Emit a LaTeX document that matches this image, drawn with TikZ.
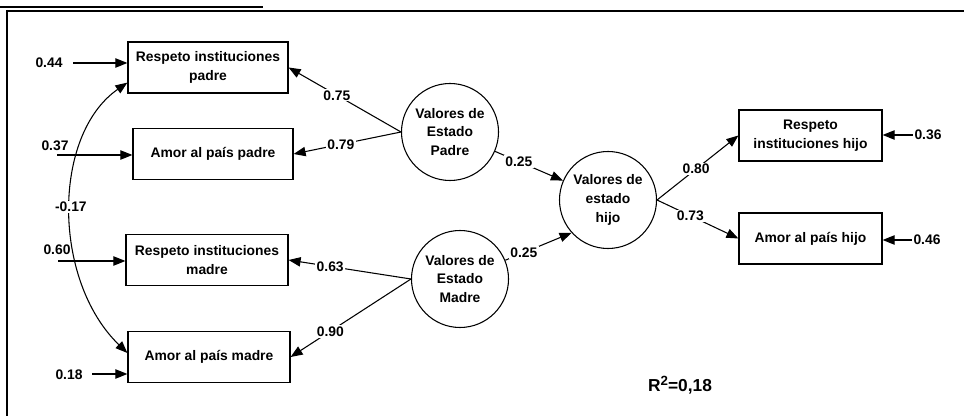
\documentclass[tikz,border=0pt]{standalone}
\usepackage{fontspec}
\setmainfont{Liberation Sans}
\usetikzlibrary{arrows.meta,calc}
\begin{document}
\begin{tikzpicture}[x=0.75pt,y=-0.75pt,
  font=\fontsize{10.4}{14}\selectfont\bfseries,
  box/.style={draw,line width=0.9pt,minimum height=38.25pt,inner sep=0pt,align=center},
  lat/.style={draw,circle,line width=0.8pt,minimum size=72.75pt,inner sep=0pt,align=center},
  conn/.style={-{Triangle[length=9pt,width=7pt]},line width=0.8pt},
  biconn/.style={{Triangle[length=9pt,width=7pt]}-{Triangle[length=9pt,width=7pt]},line width=0.8pt},
  lbl/.style={fill=white,inner sep=1pt},
  errlbl/.style={inner sep=1pt}]
\useasboundingbox (0,0) rectangle (964,416);
% frame
\draw[line width=0.8pt] (0,7) -- (263,7);
\draw[line width=2pt] (7,11) -- (964,11);
\draw[line width=1.5pt] (7,10) -- (7,416);
% observed variables
\node[box,minimum width=120pt] (r1) at (208,67.5) {Respeto instituciones\\padre};
\node[box,minimum width=120pt] (r2) at (213,154) {Amor al país padre};
\node[box,minimum width=121.5pt] (r3) at (207,260) {Respeto instituciones\\madre};
\node[box,minimum width=121.5pt] (r4) at (209,357) {Amor al país madre};
\node[box,minimum width=107.25pt] (h1) at (810.5,135.5) {Respeto\\instituciones hijo};
\node[box,minimum width=107.25pt] (h2) at (810.5,238.5) {Amor al país hijo};
% latent variables
\node[lat] (vp) at (450,132) {Valores de\\Estado\\Padre};
\node[lat] (vh) at (608,200) {Valores de\\estado\\hijo};
\node[lat] (vm) at (460,279) {Valores de\\Estado\\Madre};
% loadings and paths
\draw[conn] (vp.west) -- node[lbl,pos=0.57]{0.75} (r1.east);
\draw[conn] (vp.west) -- node[lbl,pos=0.56]{0.79} (r2.east);
\draw[conn] (vm.west) -- node[lbl,pos=0.66]{0.63} (r3.east);
\draw[conn] (vm.west) -- node[lbl,pos=0.67]{0.90} (r4.east);
\draw[conn] (vp) -- node[lbl,pos=0.35]{0.25} (vh);
\draw[conn] (vm) -- node[lbl,pos=0.28]{0.25} (vh.222);
\draw[conn] (vh.east) -- node[lbl,pos=0.48]{0.80} (h1.west);
\draw[conn] (vh.east) -- node[lbl,pos=0.41]{0.73} (h2.west);
% error terms
\coordinate (s1) at (73,63);
\node[errlbl] (e1) at (49,63) {0.44};
\draw[conn] (s1) -- (s1 -| r1.west);
\coordinate (s2) at (57,155);
\node[errlbl] (e2) at (55,146) {0.37};
\draw[conn] (s2) -- (s2 -| r2.west);
\coordinate (s3) at (58,261);
\node[errlbl] (e3) at (57,250) {0.60};
\draw[conn] (s3) -- (s3 -| r3.west);
\coordinate (s4) at (92,374);
\node[errlbl] (e4) at (69,375) {0.18};
\draw[conn] (s4) -- (s4 -| r4.west);
\node[errlbl] (e5) at (928,135) {0.36};
\draw[conn] (e5.west) -- (e5.west -| h1.east);
\node[errlbl] (e6) at (927,240) {0.46};
\draw[conn] (e6.west) -- (e6.west -| h2.east);
% correlation
\coordinate (c1) at ($(r1.south west)+(0,-11)$);
\coordinate (c2) at ($(r4.west)+(0,-4)$);
\draw[biconn] (c1) .. controls (52,135) and (52,280) .. node[lbl,pos=0.49]{-0.17} (c2);
% R squared
\node[font=\fontsize{13}{15}\selectfont\bfseries] (rsq) at (680,385) {R\raisebox{4.5pt}{\fontsize{10}{10}\selectfont 2}=0,18};
\end{tikzpicture}
\end{document}
